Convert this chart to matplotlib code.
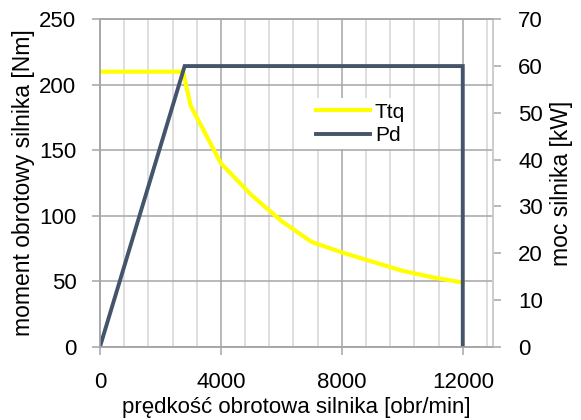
import matplotlib
matplotlib.use("Agg")
import matplotlib.pyplot as plt
from matplotlib.ticker import MultipleLocator

# Data
speed_ttq = [0, 1000, 2000, 2750, 3000, 4000, 5000, 6000, 7000, 8000, 9000, 10000, 11000, 12000]
ttq = [210, 210, 210, 210, 184, 140, 116, 96, 80, 72, 65, 58, 53, 49]
speed_pd = [0, 2800, 12000, 12000]
pd = [0, 60, 60, 0]

x_label = "prędkość obrotowa silnika [obr/min]"
y_label = "moment obrotowy silnika [Nm]"
y2_label = "moc silnika [kW]"

plt.rcParams['font.family'] = ['Liberation Sans', 'DejaVu Sans']

fig = plt.figure(figsize=(5.81, 4.2), dpi=100)
ax = fig.add_axes([100/581, 1-346.7/420, 393/581, 327.4/420])
ax2 = ax.twinx()

grid_major = '#a6a6a6'
grid_minor = '#d4d4d4'

ax.set_xlim(0, 13000)
ax.set_ylim(0, 250)
ax2.set_ylim(0, 70)

ax.xaxis.set_major_locator(MultipleLocator(4000))
ax.xaxis.set_minor_locator(MultipleLocator(800))
ax.yaxis.set_major_locator(MultipleLocator(50))
ax2.yaxis.set_major_locator(MultipleLocator(10))

ax.grid(which='minor', axis='x', color=grid_minor, lw=1.1)
ax.grid(which='major', axis='x', color=grid_major, lw=1.1)
ax.grid(which='major', axis='y', color=grid_major, lw=1.1)
ax.set_axisbelow(True)

for a in (ax, ax2):
    for s in a.spines.values():
        s.set_color(grid_major)
        s.set_linewidth(1.1)
ax2.spines['right'].set_color(grid_minor)
ax.spines['top'].set_color(grid_major)

ax.tick_params(axis='x', which='major', direction='out', length=6, width=1.1, color=grid_major,
               labelsize=16, pad=12)
ax.tick_params(axis='x', which='minor', length=0)
ax.tick_params(axis='y', direction='out', length=6, width=1.1, color=grid_major,
               labelsize=16, pad=11)
ax2.tick_params(axis='y', direction='out', length=6, width=1.1, color=grid_major,
                labelsize=16, pad=12)

l1, = ax.plot(speed_ttq, ttq, color='#FFFF00', lw=3.0, label='Ttq', solid_joinstyle='miter')
l2, = ax2.plot(speed_pd, pd, color='#44546A', lw=2.8, label='Pd', solid_joinstyle='miter')

ax.set_xlabel(x_label, fontsize=16, labelpad=3)
ax.set_ylabel(y_label, fontsize=16.5, labelpad=3)
ax2.set_ylabel(y2_label, fontsize=16.5, labelpad=5)

leg = ax2.legend(handles=[l1, l2], loc='upper left', bbox_to_anchor=(301/581, 1-88/420),
                 bbox_transform=fig.transFigure, frameon=True, fancybox=False,
                 edgecolor='none', facecolor='white', framealpha=1, fontsize=15,
                 handlelength=2.6, handletextpad=0.25, labelspacing=0.22, borderpad=0.2)

fig.savefig('out.png', dpi=100)
